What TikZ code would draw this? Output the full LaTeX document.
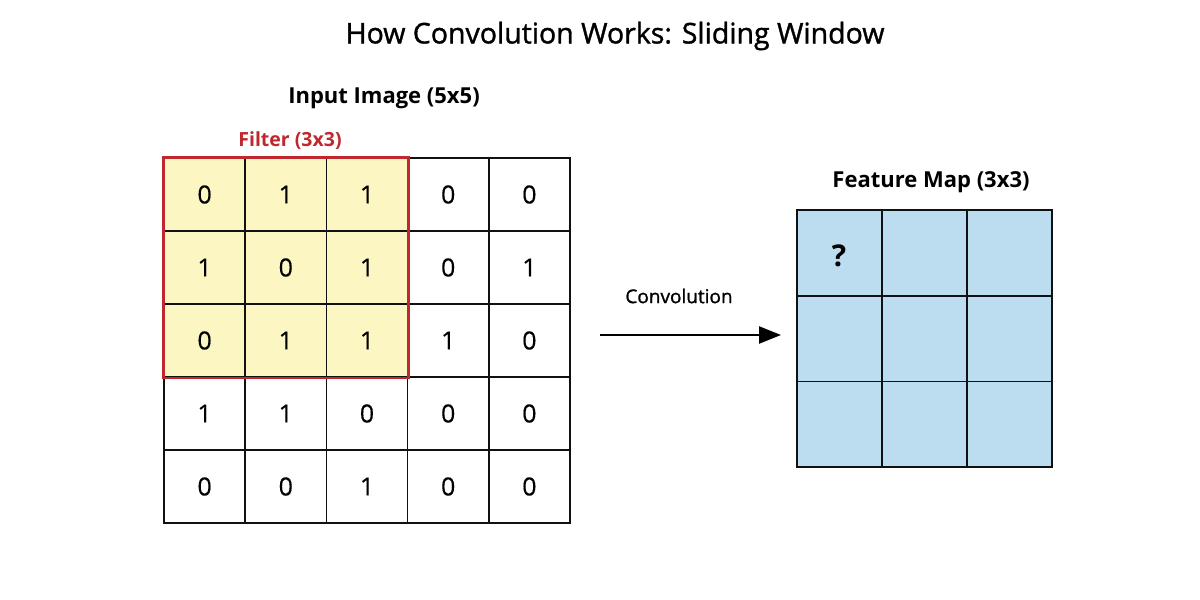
\documentclass[tikz,border=0pt]{standalone}
\usepackage{fontspec}
\setmainfont{Open Sans}
\newfontface\semibold{Open Sans}[FakeBold=1.2]
\newfontface\digitface{Open Sans}[FakeBold=0.4]
\usetikzlibrary{arrows.meta}
\definecolor{filterred}{HTML}{C0282D}
\definecolor{filteryellow}{HTML}{FCF7C2}
\definecolor{mapblue}{HTML}{BCDDF0}
\definecolor{gridline}{HTML}{111111}
\tikzset{
  incell/.style={draw=gridline, line width=1.6pt, minimum width=81.2pt, minimum height=73pt, inner sep=0pt, font=\digitface\fontsize{25}{28}\selectfont, fill=white},
  fcell/.style={incell, fill=filteryellow},
  mapcell/.style={draw=gridline, line width=1.6pt, fill=mapblue, minimum width=85pt, minimum height=85.7pt, inner sep=0pt},
  label/.style={font=\bfseries\fontsize{22}{26}\selectfont, text=black},
}
\begin{document}
\begin{tikzpicture}[x=1pt,y=-1pt]
\useasboundingbox (0,0) rectangle (1200,600);
\fill[white] (0,0) rectangle (1200,600);
\node[font=\semibold\fontsize{28.5}{32}\selectfont] (title) at (615,36) {How Convolution Works: Sliding Window};
\node[label] (inlabel) at (384,98) {Input Image (5x5)};
\node[label, text=filterred, font=\bfseries\fontsize{19.5}{22}\selectfont] (filterlabel) at (290,141) {Filter (3x3)};
\node[label] (maplabel) at (931,182) {Feature Map (3x3)};
% input grid
\foreach \r/\rowvals in {1/{0,1,1,0,0},2/{1,0,1,0,1},3/{0,1,1,1,0},4/{1,1,0,0,0},5/{0,0,1,0,0}}{
  \foreach \v [count=\c] in \rowvals {
    \pgfmathsetmacro{\isf}{(\r<4)&&(\c<4) ? 1 : 0}
    \ifnum\isf=1
      \node[fcell] (in-\r-\c) at ({164+81.2*(\c-0.5)},{158+73*(\r-0.5)}) {\v};
    \else
      \node[incell] (in-\r-\c) at ({164+81.2*(\c-0.5)},{158+73*(\r-0.5)}) {\v};
    \fi
  }
}
\draw[filterred, line width=2.6pt] (in-1-1.north west) rectangle (in-3-3.south east);
% feature map
\foreach \r in {1,2,3}{
  \foreach \c in {1,2,3}{
    \node[mapcell] (map-\r-\c) at ({797+85*(\c-0.5)},{210+85.7*(\r-0.5)}) {};
  }
}
\node[font=\bfseries\fontsize{30}{34}\selectfont] (q) at (839,256) {?};
% arrow
\coordinate (arrS) at (600,335);
\coordinate (arrE) at (781,335);
\draw[line width=2.3pt, -{Triangle[length=22pt,width=17pt]}] (arrS) -- (arrE);
\node[font=\semibold\fontsize{19}{22}\selectfont] (convlabel) at (679,296) {Convolution};
\end{tikzpicture}
\end{document}
